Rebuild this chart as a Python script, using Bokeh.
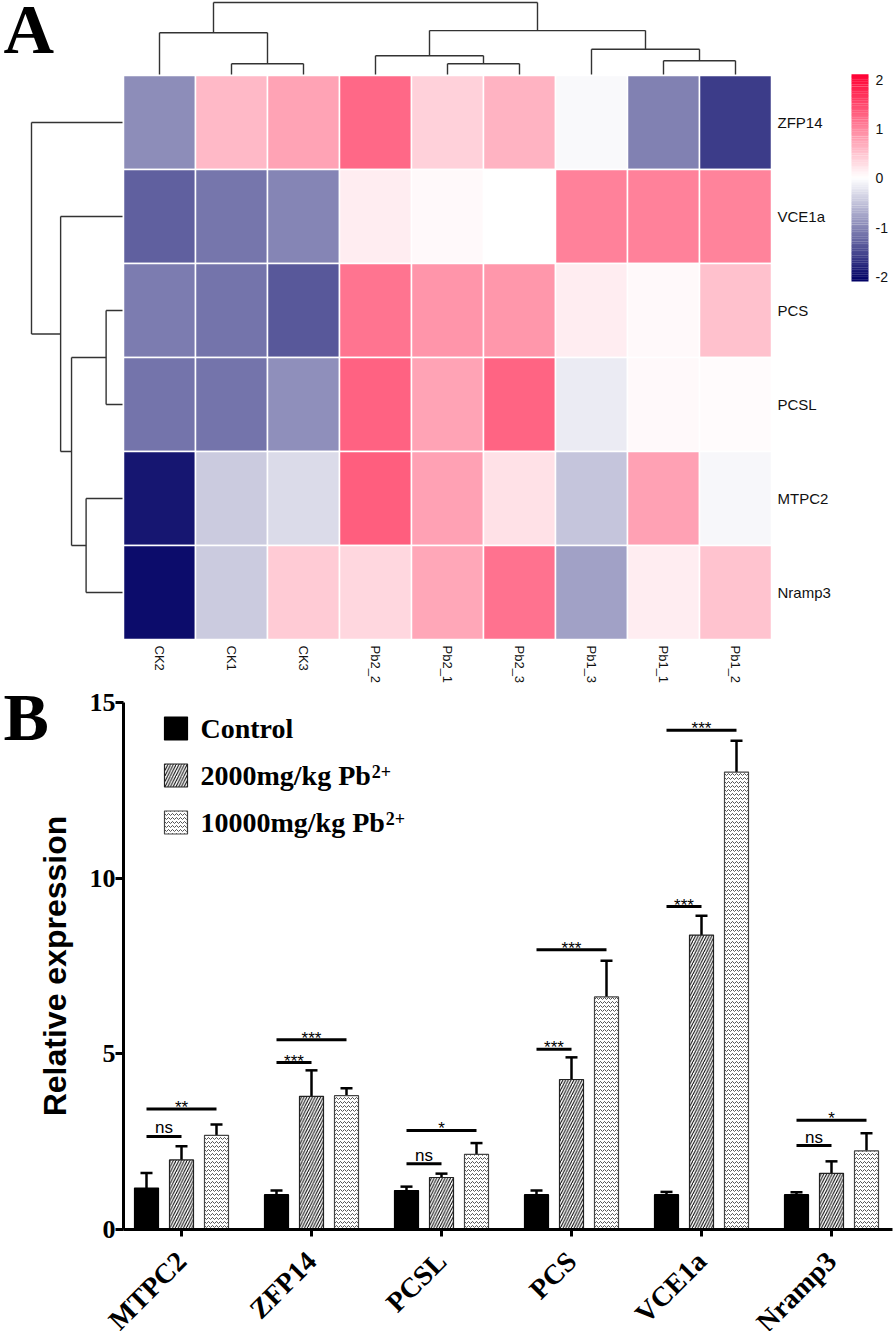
import math
from bokeh.plotting import figure
from bokeh.models import (Range1d, ColumnDataSource, FixedTicker, Whisker, TeeHead)
from bokeh.transform import linear_cmap
from bokeh.embed import file_html
from bokeh.resources import INLINE
from bokeh.core.properties import value

# ---------------- data: panel A (heatmap) ----------------
samples = ["CK2", "CK1", "CK3", "Pb2_2", "Pb2_1", "Pb2_3", "Pb1_3", "Pb1_1", "Pb1_2"]
heat_genes = ["ZFP14", "VCE1a", "PCS", "PCSL", "MTPC2", "Nramp3"]
z_ZFP14 = [-0.94, 0.60, 0.77, 1.25, 0.40, 0.65, -0.04, -1.03, -1.60]
z_VCE1a = [-1.30, -1.12, -1.00, 0.16, 0.06, 0.01, 1.06, 1.06, 1.04]
z_PCS = [-1.07, -1.14, -1.36, 1.15, 0.90, 0.87, 0.16, 0.06, 0.53]
z_PCSL = [-1.14, -1.14, -0.92, 1.31, 0.78, 1.28, -0.16, 0.07, 0.05]
z_MTPC2 = [-1.91, -0.43, -0.30, 1.34, 0.80, 0.27, -0.47, 0.80, -0.06]
z_Nramp3 = [-2.00, -0.43, 0.44, 0.34, 0.75, 1.18, -0.78, 0.16, 0.52]
z_rows = [z_ZFP14, z_VCE1a, z_PCS, z_PCSL, z_MTPC2, z_Nramp3]

# dendrogram merges: (child a, child b, relative height); ints = earlier merge
col_merges = [("CK1", "CK3", 0.15), ("CK2", 0, 0.58),
              ("Pb2_1", "Pb2_3", 0.15), ("Pb2_2", 2, 0.26),
              ("Pb1_1", "Pb1_2", 0.19), ("Pb1_3", 4, 0.35),
              (3, 5, 0.61), (1, 6, 1.00)]
row_merges = [("PCS", "PCSL", 0.18), ("MTPC2", "Nramp3", 0.40),
              (0, 1, 0.56), ("VCE1a", 2, 0.68), ("ZFP14", 3, 1.00)]
cbar_low, cbar_high = -2.1, 2.12
cbar_ticks = [-2, -1, 0, 1, 2]

# ---------------- data: panel B (bars) ----------------
bar_genes = ["MTPC2", "ZFP14", "PCSL", "PCS", "VCE1a", "Nramp3"]
control_mean = [1.18, 0.99, 1.11, 0.99, 0.99, 0.99]
control_sd = [0.43, 0.12, 0.11, 0.12, 0.08, 0.07]
pb2000_mean = [1.98, 3.79, 1.48, 4.27, 8.38, 1.60]
pb2000_sd = [0.39, 0.74, 0.11, 0.63, 0.55, 0.34]
pb10000_mean = [2.68, 3.81, 2.14, 6.62, 13.02, 2.24]
pb10000_sd = [0.31, 0.21, 0.32, 1.03, 0.89, 0.50]
series_names = ["Control", "2000mg/kg Pb", "10000mg/kg Pb"]
series_sup = ["", "2+", "2+"]
y_ticks = [0, 5, 10, 15]
sig_gene = [0, 0, 1, 1, 2, 2, 3, 3, 4, 4, 5, 5]
sig_target = [1, 2, 1, 2, 1, 2, 1, 2, 1, 2, 1, 2]
sig_level = [2.65, 3.43, 4.75, 5.40, 1.87, 2.82, 5.13, 7.96, 9.19, 14.21, 2.39, 3.11]
sig_text = ["ns", "**", "***", "***", "ns", "*", "***", "***", "***", "***", "ns", "*"]

# ---------------- helpers ----------------
def hexc(c):
    return "#%02x%02x%02x" % tuple(int(round(v)) for v in c)

def lerp(a, b, t):
    return tuple(a[i] + (b[i] - a[i]) * t for i in range(3))

NAVY, WHITE, RED = (0, 0, 100), (255, 255, 255), (255, 0, 51)
palette = [hexc(lerp(NAVY, WHITE, i / 127)) for i in range(128)] + \
          [hexc(lerp(WHITE, RED, i / 127)) for i in range(128)]

def dendro(order, merges):
    pos = {n: i + 0.5 for i, n in enumerate(order)}
    hgt = {n: 0.0 for n in order}
    segs = []
    for k, (a, b, h) in enumerate(merges):
        pa, ha, pb, hb = pos[a], hgt[a], pos[b], hgt[b]
        segs += [(pa, ha, pa, h), (pb, hb, pb, h), (pa, h, pb, h)]
        pos[k] = (pa + pb) / 2
        hgt[k] = h
    return segs

W = 894
SANS = value("Liberation Sans")
SERIF = value("Liberation Serif")

# ================= Panel A =================
HA = 688
PXX, PXY = 72.0, 94.0          # px per cell
left_px, top_px = 123, 75       # heatmap position on canvas
nr, nc = len(heat_genes), len(samples)
y_end = nr + top_px / PXY
pA = figure(width=W, height=HA, x_axis_type=None, y_axis_type=None,
            x_range=Range1d(-left_px / PXX, (W - left_px) / PXX),
            y_range=Range1d(y_end - HA / PXY, y_end),
            toolbar_location=None, output_backend="svg", min_border=0)
pA.outline_line_color = None

xs, ys, zs = [], [], []
for r, rowv in enumerate(z_rows):
    for c, v in enumerate(rowv):
        xs.append(c + 0.5)
        ys.append(nr - r - 0.5)
        zs.append(v)
src = ColumnDataSource(dict(x=xs, y=ys, z=zs))
pA.rect("x", "y", 1, 1, source=src, line_color="white", line_width=1.5,
        fill_color=linear_cmap("z", palette, cbar_low, cbar_high))

gap = 1.0
cs = dendro(samples, col_merges)
span_y = 72 / PXY
pA.segment([s[0] for s in cs], [nr + gap / PXY + s[1] * span_y for s in cs],
           [s[2] for s in cs], [nr + gap / PXY + s[3] * span_y for s in cs],
           line_color="#333333", line_width=1.4)
rs = dendro(heat_genes, row_merges)
span_x = 91 / PXX
pA.segment([-gap / PXX - s[1] * span_x for s in rs], [nr - s[0] for s in rs],
           [-gap / PXX - s[3] * span_x for s in rs], [nr - s[2] for s in rs],
           line_color="#333333", line_width=1.4)

pA.text([nc + 6 / PXX] * nr, [nr - i - 0.5 for i in range(nr)], heat_genes,
        text_font=SANS, text_font_size="15px", text_baseline="middle",
        text_align="left", text_color="#111111")
pA.text([i + 0.5 for i in range(nc)], [-6 / PXY] * nc, samples, angle=-math.pi / 2,
        text_font=SANS, text_font_size="13px", text_baseline="middle",
        text_align="left", text_color="#111111")

# colour bar
cb_x0, cb_x1 = (851 - 123) / PXX, (868 - 123) / PXX
cb_y0, cb_y1 = nr - (281 - 75) / PXY, nr + 1 / PXY
nstrip = 120
def ycb(v):
    return cb_y0 + (v - cbar_low) / (cbar_high - cbar_low) * (cb_y1 - cb_y0)
step = (cbar_high - cbar_low) / nstrip
csrc = ColumnDataSource(dict(
    b=[ycb(cbar_low + step * i) for i in range(nstrip)],
    t=[ycb(cbar_low + step * (i + 1)) + 0.002 for i in range(nstrip)],
    z=[cbar_low + step * (i + 0.5) for i in range(nstrip)]))
pA.quad(left=cb_x0, right=cb_x1, bottom="b", top="t", source=csrc, line_color=None,
        fill_color=linear_cmap("z", palette, cbar_low, cbar_high))
pA.text([(875 - 123) / PXX] * len(cbar_ticks), [ycb(v) for v in cbar_ticks],
        [str(v) for v in cbar_ticks], text_font=SANS, text_font_size="14px",
        text_baseline="middle", text_align="left", text_color="#111111")

pA.text([(3 - 123) / PXX], [nr + (75 - 29) / PXY], ["A"], text_font=SERIF,
        text_font_style="bold", text_font_size="70px", text_baseline="middle",
        text_color="black")

# ================= Panel B =================
HB = 1331 - HA
UX = 130.0                      # px per gene group
UY = 527 / 15.0                 # px per expression unit
gx0_px, zero_px = 181, 1229 - HA  # first group centre (x) and y=0 line (canvas px)
pB = figure(width=W, height=HB,
            x_range=Range1d(-gx0_px / UX, (W - gx0_px) / UX),
            y_range=Range1d(-(HB - zero_px) / UY, zero_px / UY),
            toolbar_location=None, output_backend="svg", min_border=0)
pB.outline_line_color = None
pB.xgrid.visible = False
pB.ygrid.visible = False
axis_x = -58 / UX               # y-axis position (data units)

off = 35 / UX
bw = 24 / UX
gx = list(range(len(bar_genes)))
means = [control_mean, pb2000_mean, pb10000_mean]
sds = [control_sd, pb2000_sd, pb10000_sd]
styles = [dict(fill_color="black", line_color="black"),
          dict(fill_color="white", line_color="#222222", hatch_pattern="/",
               hatch_color="black", hatch_scale=5.5, hatch_weight=1),
          dict(fill_color="white", line_color="#444444", hatch_pattern="v",
               hatch_color="#555555", hatch_scale=4, hatch_weight=1)]
for k in range(3):
    xk = [g + (k - 1) * off for g in gx]
    s = ColumnDataSource(dict(x=xk, top=means[k],
                              upper=[m + e for m, e in zip(means[k], sds[k])]))
    pB.vbar(x="x", top="top", width=bw, bottom=0, source=s, line_width=1.2, **styles[k])
    pB.add_layout(Whisker(source=s, base="x", lower="top", upper="upper",
                          lower_head=None, line_width=2.5, line_color="black",
                          upper_head=TeeHead(size=12, line_width=2.5, line_color="black")))

# significance brackets
lx0 = [sig_gene[i] - off for i in range(len(sig_gene))]
lx1 = [sig_gene[i] + (sig_target[i] - 1) * off for i in range(len(sig_gene))]
pB.segment(lx0, sig_level, lx1, sig_level, line_color="black", line_width=3)
tx = [(a + b) / 2 for a, b in zip(lx0, lx1)]
ty = [lv + (8.5 / UY if t == "ns" else 1.6 / UY) for lv, t in zip(sig_level, sig_text)]
pB.text(tx, ty, sig_text, text_font=SANS, text_font_size="17px",
        text_align="center", text_baseline="middle", text_color="black")

# legend (manual, for superscripts)
leg_x, leg_y, leg_dy = (175.5 - 181) / UX, (1229 - 728) / UY, 47 / UY
for k in range(3):
    yk = leg_y - k * leg_dy
    pB.rect([leg_x], [yk], width=23, height=23, width_units="screen",
            height_units="screen", line_width=1.2, **styles[k])
ty0 = [leg_y - k * leg_dy for k in range(3)]
tx0 = (200 - 181) / UX
pB.text([tx0] * 3, ty0, series_names, text_font=SERIF, text_font_style="bold",
        text_font_size="28px", text_baseline="middle", text_align="left",
        text_color="black")
adv = {"0": .5, "1": .5, "2": .5, "m": .833, "g": .5, "/": .278, "k": .556,
       " ": .25, "P": .611, "b": .556}
sx, sy, st = [], [], []
for k in range(3):
    if series_sup[k]:
        wpx = sum(adv.get(ch, .5) for ch in series_names[k]) * 28
        sx.append(tx0 + (wpx + 1) / UX)
        sy.append(ty0[k] + 4.5 / UY)
        st.append(series_sup[k])
pB.text(sx, sy, st, text_font=SERIF, text_font_style="bold", text_font_size="18px",
        text_baseline="middle", text_align="left", text_color="black")

# panel letter
pB.text([(3 - 181) / UX], [(1229 - 716.5) / UY], ["B"], text_font=SERIF,
        text_font_style="bold", text_font_size="68px", text_baseline="middle",
        text_align="left", text_color="black")

# axes (fixed inside the full-canvas frame)
ya = pB.yaxis[0]
ya.fixed_location = axis_x
ya.bounds = (0, 15)
ya.ticker = FixedTicker(ticks=y_ticks)
ya.minor_tick_line_color = None
ya.major_tick_out = 8
ya.major_tick_in = 0
ya.major_tick_line_width = 3
ya.axis_line_width = 3
ya.major_label_text_font = "Liberation Serif"
ya.major_label_text_font_style = "bold"
ya.major_label_text_font_size = "26px"
ya.major_label_text_color = "black"
ya.major_label_standoff = 0
ya.axis_label = "Relative expression"
ya.axis_label_text_font = "Liberation Sans"
ya.axis_label_text_font_style = "bold"
ya.axis_label_text_font_size = "32px"
ya.axis_label_text_color = "black"
ya.axis_label_standoff = 14

xa = pB.xaxis[0]
xa.fixed_location = 0
xa.bounds = (axis_x, (892 - gx0_px) / UX)
xa.ticker = FixedTicker(ticks=gx)
xa.major_label_overrides = {i: g for i, g in enumerate(bar_genes)}
xa.major_label_orientation = math.pi / 4
xa.minor_tick_line_color = None
xa.major_tick_out = 7
xa.major_tick_in = 0
xa.major_tick_line_width = 3
xa.axis_line_width = 3
xa.major_label_text_font = "Liberation Serif"
xa.major_label_text_font_style = "bold"
xa.major_label_text_font_size = "28px"
xa.major_label_text_color = "black"
xa.major_label_standoff = 20

open("out.html", "w").write(file_html([pA, pB], INLINE))
